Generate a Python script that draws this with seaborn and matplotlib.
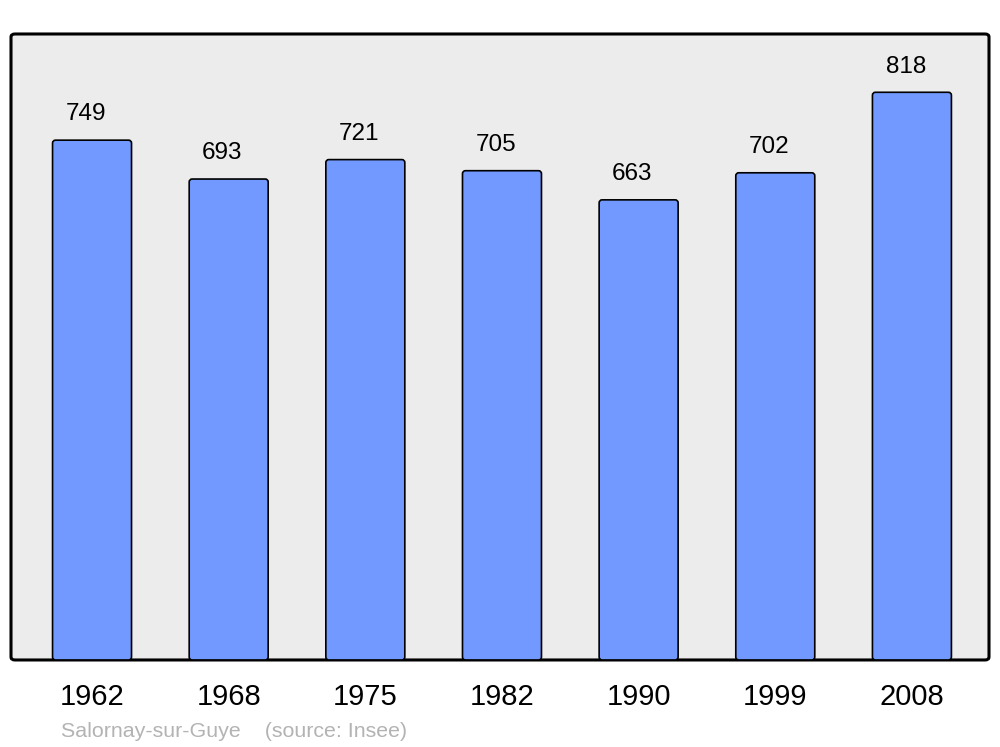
import matplotlib
matplotlib.use('Agg')
import matplotlib.pyplot as plt
from matplotlib.patches import FancyBboxPatch
import seaborn as sns
import pandas as pd

# population data
years = ['1962', '1968', '1975', '1982', '1990', '1999', '2008']
population = [749, 693, 721, 705, 663, 702, 818]
source_text = 'Salornay-sur-Guye    (source: Insee)'

df = pd.DataFrame({'year': years, 'pop': population})

sns.set_style('white')
plt.rcParams['font.family'] = ['Liberation Sans', 'DejaVu Sans']

fig = plt.figure(figsize=(10, 7.47), dpi=100)
ax = fig.add_axes([0.011, 0.1165, 0.978, 0.838])
ax.set_facecolor('none')

# rounded frame behind the bars
frame = FancyBboxPatch((0.011, 0.1165), 0.978, 0.838,
                       boxstyle='round,pad=0,rounding_size=0.004',
                       transform=fig.transFigure, facecolor='#ececec',
                       edgecolor='black', linewidth=2.2, zorder=-1)
fig.patches.append(frame)

sns.barplot(data=df, x='year', y='pop', color='#7299ff', saturation=1,
            width=0.578, edgecolor='black', linewidth=1.2, ax=ax, zorder=2)

ax.set_xlim(-0.593, 6.564)
ax.set_ylim(0, 902)

# swap the square bars for slightly rounded ones
for p in list(ax.patches):
    x, y = p.get_x(), p.get_y()
    w, h = p.get_width(), p.get_height()
    rb = FancyBboxPatch((x, y), w, h,
                        boxstyle='round,pad=0,rounding_size=0.022',
                        mutation_aspect=197, facecolor=p.get_facecolor(),
                        edgecolor='black', linewidth=1.2, zorder=2)
    p.remove()
    ax.add_patch(rb)

for i, v in enumerate(population):
    ax.annotate(str(v), (i, v), xytext=(-4.5, 18.5), textcoords='offset points',
                ha='center', va='center', fontsize=17.5, color='black')

ax.set_xlabel('')
ax.set_ylabel('')
ax.set_yticks([])
ax.tick_params(axis='x', length=0, pad=16.5, labelsize=21, labelcolor='black')
for lbl in ax.get_xticklabels():
    lbl.set_x(lbl.get_position()[0])
for s in ax.spines.values():
    s.set_visible(False)

fig.text(0.061, 0.021, source_text, fontsize=15.4, color='#b3b3b3',
         ha='left', va='center')

fig.savefig('out.png', dpi=100)
